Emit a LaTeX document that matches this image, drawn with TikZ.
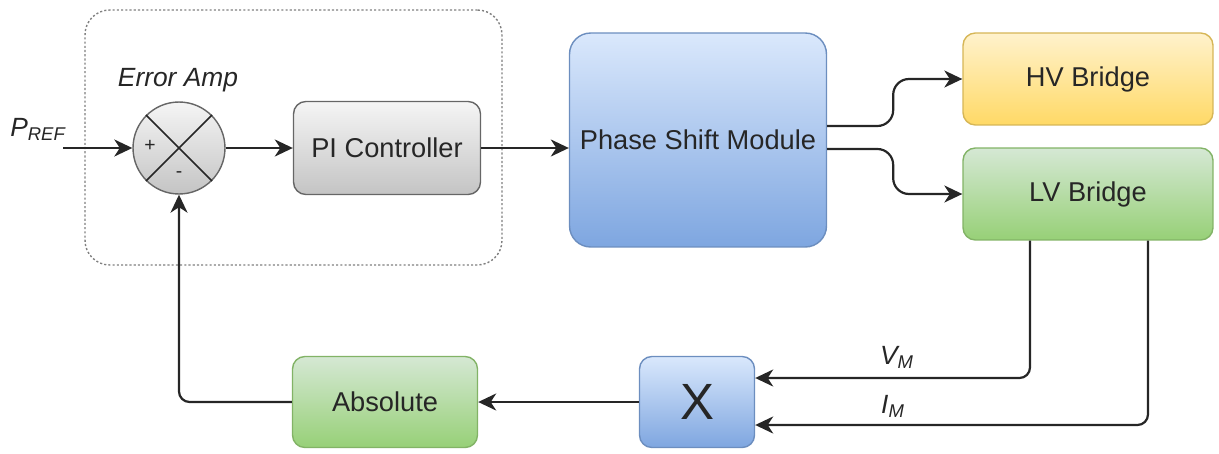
\documentclass[tikz,border=0pt]{standalone}
\usepackage{fontspec}
\setmainfont{Liberation Sans}
\usetikzlibrary{arrows.meta,positioning,calc}
\definecolor{cLine}{HTML}{262626}
\definecolor{cGryD}{HTML}{666666}
\definecolor{cGryT}{HTML}{F5F5F5}
\definecolor{cGryB}{HTML}{C4C4C4}
\definecolor{cBluD}{HTML}{6C8EBF}
\definecolor{cBluT}{HTML}{DAE8FC}
\definecolor{cBluB}{HTML}{7EA6E0}
\definecolor{cYelD}{HTML}{D6B656}
\definecolor{cYelT}{HTML}{FFF2CC}
\definecolor{cYelB}{HTML}{FFD966}
\definecolor{cGrnD}{HTML}{82B366}
\definecolor{cGrnT}{HTML}{D5E8D4}
\definecolor{cGrnB}{HTML}{97D077}
\tikzset{
  blk/.style ={draw,rounded corners=7pt,align=center,line width=0.8pt,
               font=\fontsize{15.5}{18}\selectfont,text=black!85,inner sep=3pt},
  gry/.style ={blk,draw=cGryD,top color=cGryT,bottom color=cGryB},
  blu/.style ={blk,draw=cBluD,top color=cBluT,bottom color=cBluB},
  yel/.style ={blk,draw=cYelD,top color=cYelT,bottom color=cYelB},
  grn/.style ={blk,draw=cGrnD,top color=cGrnT,bottom color=cGrnB},
  grp/.style ={draw=black!50,dash pattern=on 1.2pt off 1.2pt,line width=0.8pt,
               rounded corners=14pt},
  lbl/.style ={font=\fontsize{15}{18}\selectfont\itshape,text=black!85},
  sgn/.style ={font=\fontsize{11}{12}\selectfont,text=black!85,inner sep=0pt},
  sig/.style ={-{Stealth[length=3.6mm,width=3.4mm,inset=1.1mm]},draw=cLine,
               line width=1.25pt},
}

\begin{document}
\begin{tikzpicture}[x=0.02cm, y=-0.02cm]
\useasboundingbox (0,0) rectangle (1219,453);

% error amplifier group
\node[grp,minimum width=8.34cm,minimum height=5.1cm] (grp) at (293.5,137.5) {};

\node[circle,draw=cGryD,line width=0.8pt,top color=cGryT,bottom color=cGryB,
      minimum size=1.84cm,inner sep=0pt] (sum) at (179,148) {};
\draw[cLine,line width=0.9pt] (sum.north west) -- (sum.south east)
                              (sum.north east) -- (sum.south west);
\node[sgn] (plus)  at (150,146) {+};
\node[sgn] (minus) at (179,175) {-};
\node[lbl] (ea) at (178,80) {Error Amp};
\node[lbl] (pref) at (38,129) {P\textsubscript{REF}};
\coordinate (in) at (63,148);

\node[gry,minimum width=3.74cm,minimum height=1.86cm] (pic) at (387,148) {PI Controller};
\node[blu,rounded corners=12pt,minimum width=5.14cm,minimum height=4.28cm]
      (psm) at (698,140) {Phase Shift Module};
\node[yel,minimum width=5cm,minimum height=1.84cm] (hv) at (1088,79) {HV Bridge};
\node[grn,minimum width=5cm,minimum height=1.84cm] (lv) at (1088,194) {LV Bridge};
\node[blu,minimum width=2.3cm,minimum height=1.82cm,
      font=\fontsize{29}{32}\selectfont] (mul) at (697,402) {X};
\node[grn,minimum width=3.7cm,minimum height=1.82cm] (absb) at (385,402) {Absolute};

\node[lbl] (vm) at (897,357) {V\textsubscript{M}};
\node[lbl] (im) at (893,406) {I\textsubscript{M}};

\draw[sig] (in) -- (sum.west);
\draw[sig] (sum.east) -- (pic.west);
\draw[sig] (pic.east) -- (psm.west |- pic.east);
\draw[sig,rounded corners=9pt] ($(psm.east)+(0,-14)$) -- ++(66,0) |- (hv.west);
\draw[sig,rounded corners=9pt] ($(psm.east)+(0,9)$) -- ++(66,0) |- (lv.west);
\draw[sig,rounded corners=6pt] ($(lv.south)+(-58,0)$) |- ($(mul.east)+(0,-24)$);
\draw[sig,rounded corners=6pt] ($(lv.south)+(60,0)$) |- ($(mul.east)+(0,23)$);
\draw[sig] (mul.west) -- (absb.east);
\draw[sig,rounded corners=6pt] (absb.west) -| (sum.south);
\end{tikzpicture}
\end{document}
